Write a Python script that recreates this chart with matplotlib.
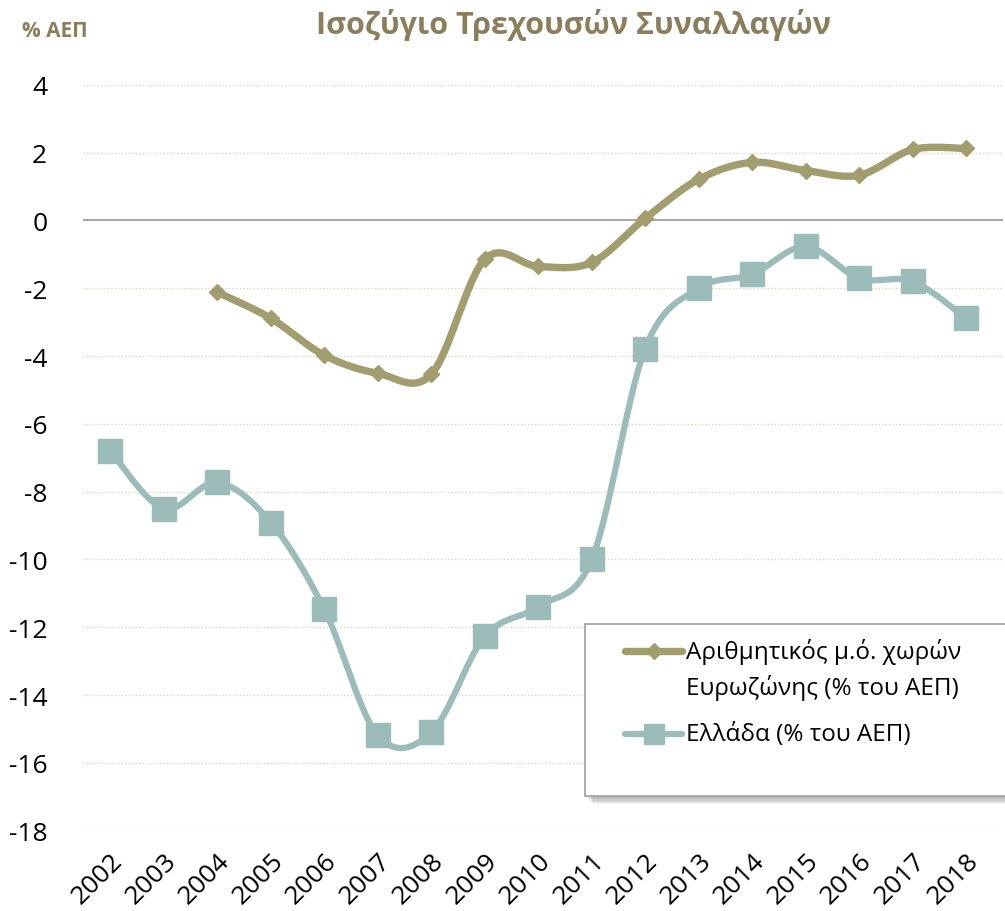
import numpy as np
import matplotlib
matplotlib.use("Agg")
import matplotlib.pyplot as plt
from matplotlib.lines import Line2D
from matplotlib.patches import Rectangle

plt.rcParams['font.family'] = ['Open Sans', 'DejaVu Sans']
plt.rcParams['axes.unicode_minus'] = False

# data
years = [2002, 2003, 2004, 2005, 2006, 2007, 2008, 2009, 2010,
         2011, 2012, 2013, 2014, 2015, 2016, 2017, 2018]
ez_years = years[2:]
eurozone = [-2.12, -2.89, -3.98, -4.51, -4.54, -1.15, -1.36, -1.24,
            0.06, 1.21, 1.71, 1.47, 1.33, 2.09, 2.12]
greece = [-6.81, -8.50, -7.73, -8.91, -11.47, -15.19, -15.10, -12.27,
          -11.39, -10.0, -3.78, -2.0, -1.59, -0.77, -1.71, -1.80, -2.89]
yticks = list(range(-18, 5, 2))

ez_label = ['Αριθμητικός μ.ό. χωρών', 'Ευρωζώνης (% του ΑΕΠ)']
gr_label = 'Ελλάδα (% του ΑΕΠ)'
title = 'Ισοζύγιο Τρεχουσών Συναλλαγών'

ez_color = '#A19D6F'
gr_color = '#9CBCBA'


def smooth(x, y, n=30):
    # Excel-style smoothed line (Catmull-Rom as Bezier segments)
    p = np.column_stack([x, y]).astype(float)
    out = []
    for i in range(len(p) - 1):
        p0 = p[i - 1] if i > 0 else p[i]
        p1, p2 = p[i], p[i + 1]
        p3 = p[i + 2] if i + 2 < len(p) else p[i + 1]
        c1 = p1 + (p2 - p0) / 6
        c2 = p2 - (p3 - p1) / 6
        t = np.linspace(0, 1, n)[:, None]
        seg = ((1 - t) ** 3 * p1 + 3 * (1 - t) ** 2 * t * c1
               + 3 * (1 - t) * t ** 2 * c2 + t ** 3 * p2)
        out.append(seg if i == 0 else seg[1:])
    s = np.vstack(out)
    return s[:, 0], s[:, 1]


fig = plt.figure(figsize=(10.05, 9.12), dpi=100)
ax = fig.add_axes([0.083, 0.088, 0.915, 0.818])

ax.axhline(0, color='#A6A6A6', lw=1.5, zorder=1)
for yt in yticks:
    if yt != 0:
        ax.axhline(yt, color='#D8D4C4', lw=1, ls=(0, (1, 1.5)), zorder=0)

sx, sy = smooth(ez_years, eurozone)
ax.plot(sx, sy, color=ez_color, lw=5.3, solid_capstyle='round', zorder=2)
ax.plot(ez_years, eurozone, ls='none', marker='D', ms=8, color=ez_color, zorder=3)

sx, sy = smooth(years, greece)
ax.plot(sx, sy, color=gr_color, lw=4.5, solid_capstyle='round', zorder=2)
ax.plot(years, greece, ls='none', marker='s', ms=17, color=gr_color, zorder=3)

ax.set_xlim(2001.495, 2018.69)
ax.set_ylim(-18, 4)
ax.set_yticks(yticks)
ax.set_xticks(years)
ax.set_xticklabels([str(y) for y in years], rotation=45, ha='right',
                   rotation_mode='anchor')
ax.tick_params(length=0, labelsize=19, pad=12)
ax.tick_params(axis='y', pad=26)
for s in ax.spines.values():
    s.set_visible(False)

# legend box with soft shadow
bx, by, bw, bh = 0.582, 0.126, 0.45, 0.189
for k in range(6):
    off = 0.002 + k * 0.0012
    fig.patches.append(Rectangle((bx + off, by - off * 1.1), bw, bh,
                                 transform=fig.transFigure, facecolor='#000000',
                                 alpha=0.05, edgecolor='none', zorder=4))
fig.patches.append(Rectangle((bx, by), bw, bh, transform=fig.transFigure,
                             facecolor='white', edgecolor='#A6A6A6', lw=1.3,
                             zorder=5))

# legend entries (handle sits on the first text line, as in Excel)
hx = [0.622, 0.679]
fig.lines.append(Line2D(hx, [0.285, 0.285], transform=fig.transFigure,
                        color=ez_color, lw=5.3, solid_capstyle='round', zorder=6))
fig.lines.append(Line2D([np.mean(hx)], [0.285], transform=fig.transFigure,
                        color=ez_color, marker='D', ms=8, zorder=7))
fig.lines.append(Line2D(hx, [0.194, 0.194], transform=fig.transFigure,
                        color=gr_color, lw=4.5, solid_capstyle='round', zorder=6))
fig.lines.append(Line2D([np.mean(hx)], [0.194], transform=fig.transFigure,
                        color=gr_color, marker='s', ms=14, zorder=7))
fig.text(0.683, 0.285, ez_label[0], fontsize=17.5, va='center', zorder=7)
fig.text(0.683, 0.246, ez_label[1], fontsize=17.5, va='center', zorder=7)
fig.text(0.683, 0.194, gr_label, fontsize=17.5, va='center', zorder=7)

fig.text(0.571, 0.973, title, ha='center', va='center', fontsize=22,
         fontweight='bold', color='#8B7E5D')
fig.text(0.022, 0.966, '% ΑΕΠ', ha='left', va='center', fontsize=15,
         fontweight='bold', color='#8B7E5D')

fig.savefig('out.png', dpi=100)
